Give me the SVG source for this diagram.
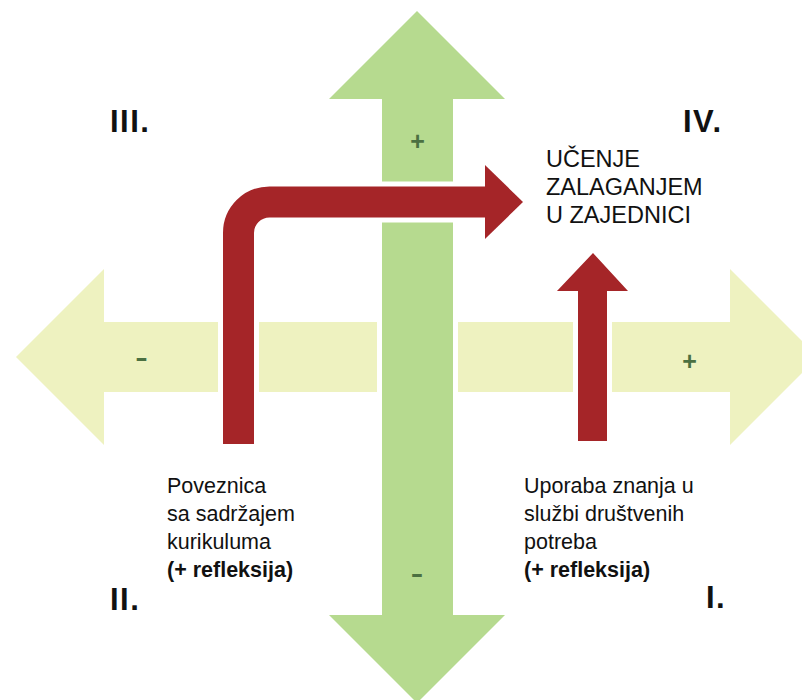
<svg xmlns="http://www.w3.org/2000/svg" width="802" height="700" viewBox="0 0 802 700">
<style>
.hz{fill:#eef2c0}
.vt{fill:#b6da8f;stroke:#ffffff;stroke-width:10;paint-order:stroke;stroke-linejoin:miter}
.halo{fill:#ffffff;stroke:#ffffff;stroke-width:10}
.red{fill:#a52528}
.sign{font-family:"Liberation Sans",Arial,sans-serif;font-weight:bold;font-size:25px;fill:#4b7041;text-anchor:middle}
.num{font-family:"Liberation Sans",Arial,sans-serif;font-weight:bold;font-size:31px;fill:#111111;letter-spacing:1.5px}
.lbl{font-family:"Liberation Sans",Arial,sans-serif;font-size:21.5px;fill:#111111}
.ttl{font-family:"Liberation Sans",Arial,sans-serif;font-size:23.5px;fill:#111111}
</style>
<rect width="802" height="700" fill="#ffffff"/>
<g id="axis-horizontal">
<polygon class="hz" points="16,357 104,269 104,322 730,322 730,269 818,357 730,445 730,392 104,392 104,445"/>
</g>
<g id="axis-vertical">
<polygon class="vt" points="417,11 505,99 453,99 453,615 505,615 417,703 329,615 382,615 382,99 329,99"/>
</g>
<g id="connectors">
<g id="halos">
<path d="M238.5,444 V233 A31,31 0 0 1 269.5,202 H486" fill="none" stroke="#ffffff" stroke-width="41"/>
<polygon class="halo" points="485,165 523,202 485,239"/>
<polygon class="halo" points="578,441 578,291 557,291 593,253 628,291 607,291 607,441"/>
</g>
<path d="M238.5,444 V233 A31,31 0 0 1 269.5,202 H486" fill="none" stroke="#a52528" stroke-width="31"/>
<polygon class="red" points="485,165 523,202 485,239"/>
<polygon class="red" points="578,441 578,291 557,291 593,253 628,291 607,291 607,441"/>
</g>
<g id="signs">
<text class="sign" x="417.5" y="150">+</text>
<text class="sign" x="141.5" y="366" transform="translate(141.5,0) scale(1.5,1) translate(-141.5,0)">-</text>
<text class="sign" x="689.5" y="369.5">+</text>
<text class="sign" x="417" y="582" transform="translate(417,0) scale(1.5,1) translate(-417,0)">-</text>
</g>
<g id="quadrant-III"><text class="num" x="110" y="132">III.</text></g>
<g id="quadrant-IV"><text class="num" x="683" y="132">IV.</text></g>
<g id="quadrant-II"><text class="num" x="110" y="610">II.</text></g>
<g id="quadrant-I"><text class="num" x="706" y="608">I.</text></g>
<g id="node-goal">
<text class="ttl" x="546" y="167">UČENJE</text>
<text class="ttl" x="546" y="195">ZALAGANJEM</text>
<text class="ttl" x="546" y="223">U ZAJEDNICI</text>
</g>
<g id="node-curriculum">
<text class="lbl" x="167" y="493">Poveznica</text>
<text class="lbl" x="167" y="521">sa sadržajem</text>
<text class="lbl" x="167" y="549">kurikuluma</text>
<text class="lbl" x="167" y="577" font-weight="bold">(+ refleksija)</text>
</g>
<g id="node-service">
<text class="lbl" x="524" y="493">Uporaba znanja u</text>
<text class="lbl" x="524" y="521">službi društvenih</text>
<text class="lbl" x="524" y="549">potreba</text>
<text class="lbl" x="524" y="577" font-weight="bold">(+ refleksija)</text>
</g>
</svg>
